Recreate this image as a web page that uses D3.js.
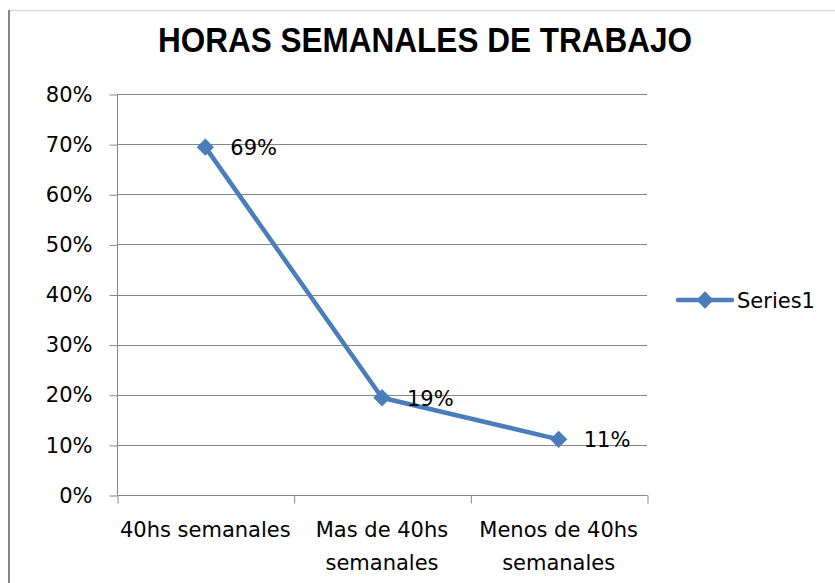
<!DOCTYPE html>
<html>
<head>
<meta charset="utf-8">
<script src="https://cdn.jsdelivr.net/npm/d3@7"></script>
<style>
body { margin: 0; background: #fff; }
svg { display: block; }
</style>
</head>
<body>
<script>
var categories = [["40hs semanales"], ["Mas de 40hs", "semanales"], ["Menos de 40hs", "semanales"]];
var values = [0.694, 0.194, 0.111];
var yTicks = [0, 0.1, 0.2, 0.3, 0.4, 0.5, 0.6, 0.7, 0.8];
var title = "HORAS SEMANALES DE TRABAJO";
var seriesName = "Series1";

var width = 835, height = 583;
var margin = {left: 117, right: 188, top: 94, bottom: 88};
var blue = "#4A7EBB";
var labelFont = "'DejaVu Sans', sans-serif";

var svg = d3.select("body").append("svg").attr("width", width).attr("height", height);

// chart border (only top and left visible)
svg.append("line").attr("x1", 9).attr("x2", width).attr("y1", 10.5).attr("y2", 10.5)
    .style("stroke", "#d9d9d9").style("stroke-width", 1.5);
svg.append("line").attr("x1", 9).attr("x2", 9).attr("y1", 10).attr("y2", height)
    .style("stroke", "#868686").style("stroke-width", 2);

var x = d3.scaleBand()
    .domain(d3.range(categories.length))
    .range([margin.left, width - margin.right]);
var y = d3.scaleLinear()
    .domain([0, 0.8])
    .range([height - margin.bottom, margin.top]);

// gridlines
svg.append("g").selectAll("line").data(yTicks.slice(1)).enter().append("line")
    .attr("x1", margin.left).attr("x2", width - margin.right)
    .attr("y1", function(d) { return Math.round(y(d)) + 0.5; })
    .attr("y2", function(d) { return Math.round(y(d)) + 0.5; })
    .style("stroke", "#868686").style("stroke-width", 1);

var yAxis = d3.axisLeft(y).tickValues(yTicks).tickSize(8).tickPadding(17)
    .tickFormat(d3.format(".0%"));
var gy = svg.append("g").attr("transform", "translate(" + (margin.left + 0.5) + ",0.5)").call(yAxis);
gy.select(".domain").remove();
gy.selectAll("line").style("stroke", "#868686");
gy.append("line").attr("x1", 0).attr("x2", 0)
    .attr("y1", y(0.8)).attr("y2", y(0)).style("stroke", "#868686");
gy.selectAll("text").style("font-family", labelFont).style("font-size", "21px").style("fill", "#000");

var xAxis = d3.axisBottom(d3.scaleLinear().domain([0, categories.length]).range(x.range()))
    .ticks(categories.length).tickSize(8).tickFormat("");
var gx = svg.append("g").attr("transform", "translate(0.5," + (y(0) + 0.5) + ")").call(xAxis);
gx.select(".domain").attr("d", "M" + x.range()[0] + ",0H" + x.range()[1]).style("stroke", "#868686");
gx.selectAll("line").style("stroke", "#868686");

// category labels
var catText = svg.append("g").selectAll("text").data(categories).enter().append("text")
    .attr("x", function(d, i) { return x(i) + x.bandwidth() / 2; })
    .attr("y", y(0) + 42)
    .style("text-anchor", "middle")
    .style("font-family", labelFont).style("font-size", "21px");
catText.selectAll("tspan").data(function(d) { return d; }).enter().append("tspan")
    .attr("x", function() { return d3.select(this.parentNode).attr("x"); })
    .attr("dy", function(d, i) { return i === 0 ? 0 : 33; })
    .text(function(d) { return d; });

// line
var line = d3.line()
    .x(function(d, i) { return x(i) + x.bandwidth() / 2; })
    .y(function(d) { return y(d); });
svg.append("path").datum(values).attr("d", line)
    .style("fill", "none").style("stroke", blue).style("stroke-width", 4.5)
    .style("stroke-linejoin", "round");

var diamond = d3.symbol().type(d3.symbolSquare).size(150);
svg.append("g").selectAll("path").data(values).enter().append("path")
    .attr("d", diamond)
    .attr("transform", function(d, i) { return "translate(" + (x(i) + x.bandwidth() / 2) + "," + y(d) + ") rotate(45)"; })
    .style("fill", blue);

svg.append("g").selectAll("text").data(values).enter().append("text")
    .attr("x", function(d, i) { return x(i) + x.bandwidth() / 2 + 25; })
    .attr("y", function(d) { return y(d) + 8; })
    .style("font-family", labelFont).style("font-size", "21px")
    .text(function(d) { return d3.format(".0%")(d); });

// title
svg.append("text")
    .attr("x", 425).attr("y", 52)
    .attr("textLength", 534).attr("lengthAdjust", "spacingAndGlyphs")
    .style("text-anchor", "middle")
    .style("font-family", "'Liberation Sans', Arial, sans-serif")
    .style("font-weight", "bold").style("font-size", "35px")
    .text(title);

// legend
var legend = svg.append("g").attr("transform", "translate(678,300)");
legend.append("line").attr("x1", 0).attr("x2", 54).attr("y1", 0).attr("y2", 0)
    .style("stroke", blue).style("stroke-width", 4.5).style("stroke-linecap", "round");
legend.append("path").attr("d", diamond).attr("transform", "translate(27,0) rotate(45)").style("fill", blue);
legend.append("text").attr("x", 59).attr("y", 8)
    .style("font-family", labelFont).style("font-size", "21px")
    .text(seriesName);
</script>
</body>
</html>
